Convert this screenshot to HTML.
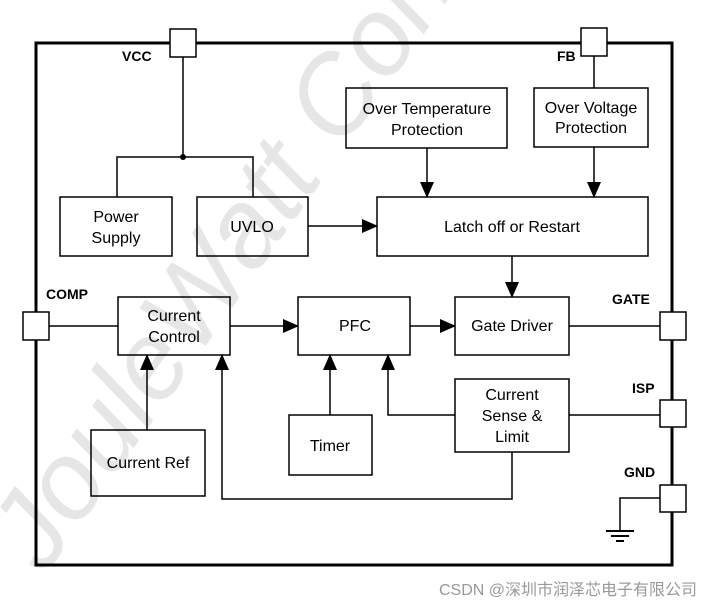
<!DOCTYPE html>
<html><head><meta charset="utf-8"><style>
html,body{margin:0;padding:0;background:#fff;width:710px;height:606px;overflow:hidden}
text{font-family:"Liberation Sans",Arial,sans-serif}
</style></head><body>
<svg width="710" height="606" viewBox="0 0 710 606" xmlns="http://www.w3.org/2000/svg">
<defs><marker id="b" markerWidth="16" markerHeight="14" refX="15" refY="7" orient="auto" markerUnits="userSpaceOnUse"><path d="M0,0 L16,7 L0,14 z" fill="#000"/></marker></defs>
<text x="45" y="575" font-family="Liberation Serif" font-style="italic" font-size="110" fill="#e6e6e6" transform="rotate(-55 45 575)">JouleWatt Confi</text>
<rect x="36" y="43" width="636" height="522" fill="none" stroke="#000" stroke-width="3"/>
<g fill="#fff" stroke="#000" stroke-width="1.5">
<rect x="170" y="29" width="26" height="28"/><rect x="581" y="28" width="26" height="28"/>
<rect x="23" y="312" width="26" height="28"/><rect x="660" y="312" width="26" height="28"/>
<rect x="660" y="400" width="26" height="27"/><rect x="660" y="485" width="26" height="27"/>
</g>
<g font-weight="bold" font-size="14" fill="#000">
<text x="122" y="61">VCC</text><text x="557" y="61">FB</text><text x="46" y="299">COMP</text>
<text x="612" y="304">GATE</text><text x="632" y="393">ISP</text><text x="624" y="477">GND</text></g>
<g fill="none" stroke="#000" stroke-width="1.5">
<rect x="60" y="197" width="112" height="59"/><rect x="197" y="197" width="111" height="59"/>
<rect x="377" y="197" width="271" height="59"/><rect x="346" y="88" width="161" height="60"/>
<rect x="534" y="88" width="114" height="59"/><rect x="118" y="297" width="112" height="58"/>
<rect x="298" y="297" width="112" height="58"/><rect x="455" y="297" width="114" height="58"/>
<rect x="455" y="379" width="114" height="73"/><rect x="289" y="415" width="83" height="60"/>
<rect x="91" y="430" width="114" height="66"/>
<path d="M183 57V157M117 197V157H253V197M594 56V88M569 326H660M569 415H660M660 498H620V530M49 326H118"/>
<path d="M606 531h28M611 536h18M616 541h8" stroke-width="2"/>
<path d="M308 226H377" marker-end="url(#b)"/>
<path d="M427 148V197" marker-end="url(#b)"/>
<path d="M594 147V197" marker-end="url(#b)"/>
<path d="M512 256V297" marker-end="url(#b)"/>
<path d="M230 326H298" marker-end="url(#b)"/>
<path d="M410 326H455" marker-end="url(#b)"/>
<path d="M147 430V355" marker-end="url(#b)"/>
<path d="M330 415V355" marker-end="url(#b)"/>
<path d="M455 415H388V355" marker-end="url(#b)"/>
<path d="M512 452V499H222V355" marker-end="url(#b)"/>
</g>
<circle cx="183" cy="157" r="3" fill="#000"/>
<g font-size="16" fill="#000" text-anchor="middle">
<text x="116" y="222">Power</text><text x="116" y="243">Supply</text>
<text x="252" y="232">UVLO</text><text x="512" y="232">Latch off or Restart</text>
<text x="427" y="114">Over Temperature</text><text x="427" y="135">Protection</text>
<text x="591" y="113">Over Voltage</text><text x="591" y="133">Protection</text>
<text x="174" y="321">Current</text><text x="174" y="342">Control</text>
<text x="355" y="331">PFC</text><text x="512" y="331">Gate Driver</text>
<text x="512" y="400">Current</text><text x="512" y="421">Sense &amp;</text><text x="512" y="442">Limit</text>
<text x="330" y="451">Timer</text><text x="148" y="468">Current Ref</text></g>
<text x="697" y="595" text-anchor="end" font-size="16" fill="#999" font-family="Liberation Sans,'Noto Sans CJK SC',sans-serif">CSDN @深圳市润泽芯电子有限公司</text>
</svg>
</body></html>
